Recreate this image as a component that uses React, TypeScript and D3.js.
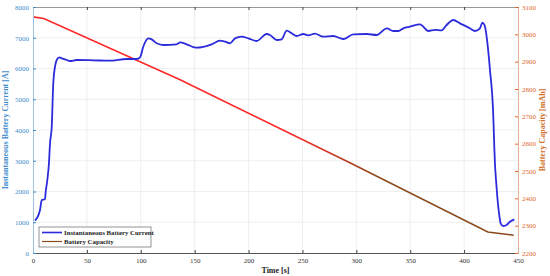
import { useEffect, useRef } from "react";
import {
  select,
  scaleLinear,
  line,
  curveMonotoneX,
  axisBottom,
  axisTop,
  axisLeft,
  axisRight,
  range,
  format,
} from "d3";

////
///// data
const currentTime = [
  1.9, 6.5, 8.1, 11.1, 11.8, 13.3, 14.8, 15.8, 17.4, 18.8, 20.4, 22, 24.4,
  26.6, 31.3, 34.3, 40.5, 56, 71.4, 86.9, 96.2, 99.3, 102.3, 107, 110.1, 114.8,
  120.9, 133.3, 136.4, 142.6, 148.7, 151.9, 165.8, 173.5, 178.1, 182.8, 187.4,
  193.6, 199.8, 207.5, 216.8, 219.9, 226.1, 230.7, 235.4, 240, 244.7, 250.8,
  255.4, 261.6, 269.3, 278.6, 287.9, 297.2, 309.6, 318.9, 328.2, 334.3, 339,
  343.6, 349.8, 359.1, 366.8, 373, 379.2, 383.8, 390, 396.2, 405.4, 410.1,
  414.7, 416.9, 419.4, 420.9, 424, 427.1, 428, 428.6, 429.6, 430.8, 432.4,
  433.9, 436.3, 439.5, 442.5, 446.6,
];
const currentAmps = [
  1050, 1398, 1724, 1750, 1994, 2374, 2917, 3567, 4107, 5519, 6059, 6276,
  6364, 6331, 6276, 6244, 6276, 6266, 6254, 6309, 6309, 6364, 6709, 6981, 6949,
  6819, 6764, 6786, 6851, 6786, 6699, 6677, 6786, 6904, 6872, 6819, 6981, 7034,
  6981, 6894, 7122, 7090, 6927, 6949, 7229, 7145, 7057, 7122, 7080, 7133, 7034,
  7057, 6959, 7112, 7122, 7090, 7307, 7220, 7220, 7307, 7360, 7438, 7220, 7253,
  7242, 7415, 7578, 7469, 7307, 7220, 7307, 7491, 7360, 7034, 5951, 4432,
  3457, 2917, 2374, 1831, 1291, 966, 878, 911, 1018, 1096,
];
const capacityTime = [0, 10, 136, 294, 422, 446];
const capacityMah = [3064, 3058, 2835, 2530, 2277, 2265];

const xTicks = range(0, 451, 50);
const leftTicks = range(0, 8001, 1000);
const rightTicks = range(2200, 3101, 100);

const legendLabels = ["Instantaneous Battery Current", "Battery Capacity"];

////
/////
const W = 550;
const H = 276;
const M = { left: 33, right: 32, top: 7, bottom: 23 };
const BLUE = "#2b2bdc";
const RED = "#ff2626";
const BROWN = "#8b4a1c";
const LEFT_C = "#3f8ccc";
const RIGHT_C = "#e2682e";
const FONT = "'Liberation Serif', serif";

export default function App() {
  const ref = useRef<SVGSVGElement>(null);

  useEffect(() => {
    const svg = select(ref.current);
    svg.selectAll("*").remove();
    const x0 = M.left;
    const x1 = W - M.right;
    const y0 = H - M.bottom;
    const y1 = M.top;

    const x = scaleLinear().domain([0, 450]).range([x0, x1]);
    const yL = scaleLinear().domain([0, 8000]).range([y0, y1]);
    const yR = scaleLinear().domain([2200, 3100]).range([y0, y1]);
    const fmt = format("d");

    svg.append("rect").attr("width", W).attr("height", H).attr("fill", "#fff");

    // grid
    const grid = svg.append("g").attr("stroke", "#ebebeb").attr("stroke-width", 0.8);
    grid
      .selectAll(".gx")
      .data(xTicks.slice(1, -1))
      .join("line")
      .attr("x1", (d) => x(d))
      .attr("x2", (d) => x(d))
      .attr("y1", y1)
      .attr("y2", y0);
    grid
      .selectAll(".gy")
      .data(leftTicks.slice(1, -1))
      .join("line")
      .attr("x1", x0)
      .attr("x2", x1)
      .attr("y1", (d) => yL(d))
      .attr("y2", (d) => yL(d));

    // gradient for capacity line (red -> brown)
    const grad = svg
      .append("defs")
      .append("linearGradient")
      .attr("id", "capGrad")
      .attr("gradientUnits", "userSpaceOnUse")
      .attr("x1", x(240))
      .attr("x2", x(320))
      .attr("y1", 0)
      .attr("y2", 0);
    grad.append("stop").attr("offset", 0).attr("stop-color", RED);
    grad.append("stop").attr("offset", 1).attr("stop-color", BROWN);

    // lines
    const cap = capacityTime.map((t, i) => [t, capacityMah[i]] as [number, number]);
    svg
      .append("path")
      .datum(cap)
      .attr("fill", "none")
      .attr("stroke", "url(#capGrad)")
      .attr("stroke-width", 1.6)
      .attr(
        "d",
        line<[number, number]>()
          .x((d) => x(d[0]))
          .y((d) => yR(d[1]))
      );

    const cur = currentTime.map((t, i) => [t, currentAmps[i]] as [number, number]);
    svg
      .append("path")
      .datum(cur)
      .attr("fill", "none")
      .attr("stroke", BLUE)
      .attr("stroke-width", 1.8)
      .attr(
        "d",
        line<[number, number]>()
          .x((d) => x(d[0]))
          .y((d) => yL(d[1]))
          .curve(curveMonotoneX)
      );

    // axes
    const styleAxis = (g, color) => {
      g.attr("font-family", FONT);
      g.selectAll("text").attr("font-family", FONT).attr("font-size", 7).attr("fill", color);
      g.selectAll("line").attr("stroke", "#444");
    };
    const xb = svg
      .append("g")
      .attr("transform", `translate(0,${y0})`)
      .call(
        axisBottom(x).tickValues(xTicks).tickFormat(fmt).tickSizeInner(-3).tickSizeOuter(0).tickPadding(5)
      );
    xb.select(".domain").attr("stroke", "#555");
    styleAxis(xb, "#333");
    const xt = svg
      .append("g")
      .attr("transform", `translate(0,${y1})`)
      .call(axisTop(x).tickValues(xTicks).tickSizeInner(-3).tickSizeOuter(0).tickFormat(() => ""));
    xt.select(".domain").attr("stroke", "#999");
    xt.selectAll("line").attr("stroke", "#444");

    const yl = svg
      .append("g")
      .attr("transform", `translate(${x0},0)`)
      .call(
        axisLeft(yL).tickValues(leftTicks).tickFormat(fmt).tickSizeInner(-3).tickSizeOuter(0).tickPadding(4)
      );
    yl.select(".domain").attr("stroke", "#9cc3e2");
    styleAxis(yl, LEFT_C);
    yl.selectAll("line").attr("stroke", LEFT_C);

    const yr = svg
      .append("g")
      .attr("transform", `translate(${x1},0)`)
      .call(
        axisRight(yR).tickValues(rightTicks).tickFormat(fmt).tickSizeInner(-3).tickSizeOuter(0).tickPadding(4)
      );
    yr.select(".domain").attr("stroke", "#e0b090");
    styleAxis(yr, RIGHT_C);
    yr.selectAll("line").attr("stroke", RIGHT_C);

    // titles
    svg
      .append("text")
      .attr("x", (x0 + x1) / 2)
      .attr("y", H - 3)
      .attr("text-anchor", "middle")
      .attr("font-family", FONT)
      .attr("font-weight", "bold")
      .attr("font-size", 8)
      .attr("fill", "#222")
      .text("Time [s]");
    svg
      .append("text")
      .attr("transform", `translate(8,${(y0 + y1) / 2}) rotate(-90)`)
      .attr("text-anchor", "middle")
      .attr("font-family", FONT)
      .attr("font-weight", "bold")
      .attr("font-size", 8)
      .attr("fill", LEFT_C)
      .text("Instantaneous Battery Current [A]");
    svg
      .append("text")
      .attr("transform", `translate(545,${(y0 + y1) / 2}) rotate(-90)`)
      .attr("text-anchor", "middle")
      .attr("font-family", FONT)
      .attr("font-weight", "bold")
      .attr("font-size", 8)
      .attr("fill", "#d0702a")
      .text("Battery Capacity [mAh]");

    // legend
    const lg = svg.append("g").attr("transform", "translate(39,227)");
    lg.append("rect")
      .attr("width", 112)
      .attr("height", 20)
      .attr("fill", "#fff")
      .attr("stroke", "#666")
      .attr("stroke-width", 0.7);
    lg.selectAll("g.item")
      .data(legendLabels)
      .join("g")
      .attr("transform", (_, i) => `translate(0,${5.5 + i * 9})`)
      .each(function (d, i) {
        const it = select(this);
        it.append("line")
          .attr("x1", 3)
          .attr("x2", 23)
          .attr("stroke", i === 0 ? BLUE : BROWN)
          .attr("stroke-width", i === 0 ? 1.6 : 1.2);
        it.append("text")
          .attr("x", 25)
          .attr("dy", "0.33em")
          .attr("font-family", FONT)
          .attr("font-weight", "bold")
          .attr("font-size", 6.8)
          .attr("fill", "#222")
          .text(d);
      });
  }, []);

  return (
    <svg
      ref={ref}
      width={W}
      height={H}
      style={{ position: "absolute", left: 0, top: 0 }}
    />
  );
}
